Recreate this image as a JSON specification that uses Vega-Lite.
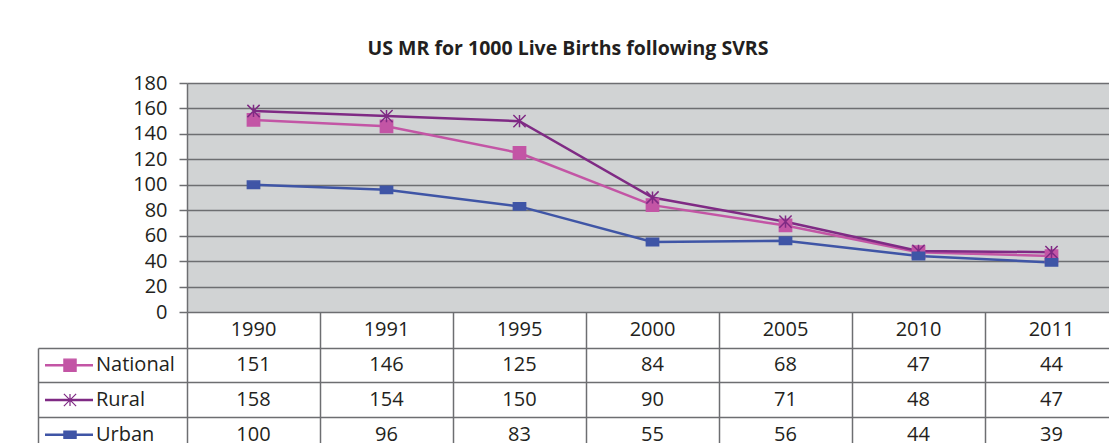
{
  "$schema": "https://vega.github.io/schema/vega-lite/v6.json",
  "padding": {"left": 38, "top": 38, "right": 0, "bottom": 0},
  "background": "white",
  "title": {"text": "US MR for 1000 Live Births following SVRS", "fontSize": 19.5, "fontWeight": "bold", "font": "Open Sans", "color": "#231f20", "anchor": "middle", "offset": 14, "dx": -10},
  "config": {"font": "Open Sans", "view": {"stroke": null}},
  "columns": 2,
  "spacing": 0,
  "bounds": "flush",
  "align": "each",
  "datasets": {
    "mr": [
      {"year": "1990", "series": "National", "value": 151},
      {"year": "1991", "series": "National", "value": 146},
      {"year": "1995", "series": "National", "value": 125},
      {"year": "2000", "series": "National", "value": 84},
      {"year": "2005", "series": "National", "value": 68},
      {"year": "2010", "series": "National", "value": 47},
      {"year": "2011", "series": "National", "value": 44},
      {"year": "1990", "series": "Rural", "value": 158},
      {"year": "1991", "series": "Rural", "value": 154},
      {"year": "1995", "series": "Rural", "value": 150},
      {"year": "2000", "series": "Rural", "value": 90},
      {"year": "2005", "series": "Rural", "value": 71},
      {"year": "2010", "series": "Rural", "value": 48},
      {"year": "2011", "series": "Rural", "value": 47},
      {"year": "1990", "series": "Urban", "value": 100},
      {"year": "1991", "series": "Urban", "value": 96},
      {"year": "1995", "series": "Urban", "value": 83},
      {"year": "2000", "series": "Urban", "value": 55},
      {"year": "2005", "series": "Urban", "value": 56},
      {"year": "2010", "series": "Urban", "value": 44},
      {"year": "2011", "series": "Urban", "value": 39}
    ]
  },
  "concat": [
    {"width": 149, "height": 229, "data": {"values": []}, "mark": "point", "encoding": {}},
    {
      "width": 931, "height": 229,
      "data": {"name": "mr"},
      "view": {"fill": "#d1d3d4", "stroke": null},
      "encoding": {
        "x": {"field": "year", "type": "ordinal", "sort": null, "axis": null},
        "y": {"field": "value", "type": "quantitative",
              "scale": {"domain": [0, 180], "nice": false},
              "axis": {"values": [0, 20, 40, 60, 80, 100, 120, 140, 160, 180], "title": null,
                       "labelFontSize": 20, "labelColor": "#231f20", "labelFont": "Open Sans", "labelPadding": 12,
                       "tickSize": 8, "tickColor": "#6d6e71", "tickWidth": 1.5,
                       "domainColor": "#6d6e71", "domainWidth": 1.5,
                       "grid": true, "gridColor": "#6d6e71", "gridWidth": 1.5, "gridOpacity": 1}},
        "color": {"field": "series", "type": "nominal",
                  "scale": {"domain": ["National", "Rural", "Urban"], "range": ["#c355a5", "#7f2a84", "#3f55a6"]},
                  "legend": null}
      },
      "layer": [
        {"mark": {"type": "line", "strokeWidth": 2.5}},
        {"mark": {"type": "point", "filled": true, "opacity": 1, "strokeWidth": 1.5},
         "encoding": {
           "stroke": {"field": "series", "type": "nominal",
                      "scale": {"domain": ["National", "Rural", "Urban"], "range": ["#c355a5", "#7f2a84", "#3f55a6"]},
                      "legend": null},
           "shape": {"field": "series", "type": "nominal",
                     "scale": {"domain": ["National", "Rural", "Urban"], "range": ["square", "M-1,-1L1,1M-1,1L1,-1M0,-1L0,1", "M-1,-0.6H1V0.6H-1Z"]},
                     "legend": null},
           "size": {"field": "series", "type": "nominal",
                    "scale": {"domain": ["National", "Rural", "Urban"], "range": [150, 150, 49]},
                    "legend": null}
         }}
      ]
    },
    {"width": 149, "height": 36, "data": {"values": []}, "mark": "point", "encoding": {}},
    {
      "width": 931, "height": 36,
      "data": {"name": "mr"},
      "transform": [{"filter": "datum.series === 'National'"}],
      "mark": {"type": "text", "fontSize": 20, "color": "#231f20", "font": "Open Sans"},
      "encoding": {
        "x": {"field": "year", "type": "nominal", "sort": null,
              "scale": {"type": "band", "paddingInner": 0, "paddingOuter": 0},
              "axis": {"grid": true, "bandPosition": 0, "labels": false, "ticks": false, "domain": false, "title": null,
                       "gridColor": "#6d6e71", "gridWidth": 1.5, "gridOpacity": 1}},
        "text": {"field": "year"}
      }
    },
    {
      "width": 149, "height": 104,
      "data": {"name": "mr"},
      "transform": [{"filter": "datum.year === '1990'"}],
      "encoding": {
        "y": {"field": "series", "type": "nominal",
              "scale": {"type": "band", "domain": ["National", "Rural", "Urban"], "paddingInner": 0, "paddingOuter": 0},
              "axis": {"grid": true, "bandPosition": 0, "labels": false, "ticks": false, "domain": false, "title": null,
                       "gridColor": "#6d6e71", "gridWidth": 1.5, "gridOpacity": 1}}
      },
      "layer": [
        {"mark": {"type": "rule", "strokeWidth": 2.5},
         "encoding": {
           "x": {"datum": 7, "type": "quantitative",
                 "scale": {"domain": [0, 149], "nice": false, "zero": false},
                 "axis": {"values": [0], "grid": true, "labels": false, "ticks": false, "domain": false, "title": null,
                          "gridColor": "#6d6e71", "gridWidth": 1.5, "gridOpacity": 1}},
           "x2": {"datum": 55},
           "color": {"field": "series", "type": "nominal",
                     "scale": {"domain": ["National", "Rural", "Urban"], "range": ["#c355a5", "#7f2a84", "#3f55a6"]},
                     "legend": null}
         }},
        {"mark": {"type": "point", "filled": true, "opacity": 1, "strokeWidth": 1.2},
         "encoding": {
           "x": {"datum": 32, "type": "quantitative"},
           "color": {"field": "series", "type": "nominal",
                     "scale": {"domain": ["National", "Rural", "Urban"], "range": ["#c355a5", "#7f2a84", "#3f55a6"]},
                     "legend": null},
           "stroke": {"field": "series", "type": "nominal",
                      "scale": {"domain": ["National", "Rural", "Urban"], "range": ["#c355a5", "#7f2a84", "#3f55a6"]},
                      "legend": null},
           "shape": {"field": "series", "type": "nominal",
                     "scale": {"domain": ["National", "Rural", "Urban"], "range": ["square", "M-1,-1L1,1M-1,1L1,-1M0,-1L0,1", "M-1,-0.1H1V0.8H-1Z"]},
                     "legend": null},
           "size": {"field": "series", "type": "nominal",
                    "scale": {"domain": ["National", "Rural", "Urban"], "range": [150, 170, 150]},
                    "legend": null}
         }},
        {"mark": {"type": "text", "align": "left", "fontSize": 20, "color": "#231f20", "font": "Open Sans"},
         "encoding": {
           "x": {"datum": 58, "type": "quantitative"},
           "text": {"field": "series"}
         }}
      ]
    },
    {
      "width": 931, "height": 104,
      "data": {"name": "mr"},
      "mark": {"type": "text", "fontSize": 20, "color": "#231f20", "font": "Open Sans"},
      "encoding": {
        "x": {"field": "year", "type": "nominal", "sort": null,
              "scale": {"type": "band", "paddingInner": 0, "paddingOuter": 0},
              "axis": {"grid": true, "bandPosition": 0, "labels": false, "ticks": false, "domain": false, "title": null,
                       "gridColor": "#6d6e71", "gridWidth": 1.5, "gridOpacity": 1}},
        "y": {"field": "series", "type": "nominal",
              "scale": {"type": "band", "domain": ["National", "Rural", "Urban"], "paddingInner": 0, "paddingOuter": 0},
              "axis": {"grid": true, "bandPosition": 0, "labels": false, "ticks": false, "domain": false, "title": null,
                       "gridColor": "#6d6e71", "gridWidth": 1.5, "gridOpacity": 1}},
        "text": {"field": "value", "type": "quantitative"}
      }
    }
  ]
}
